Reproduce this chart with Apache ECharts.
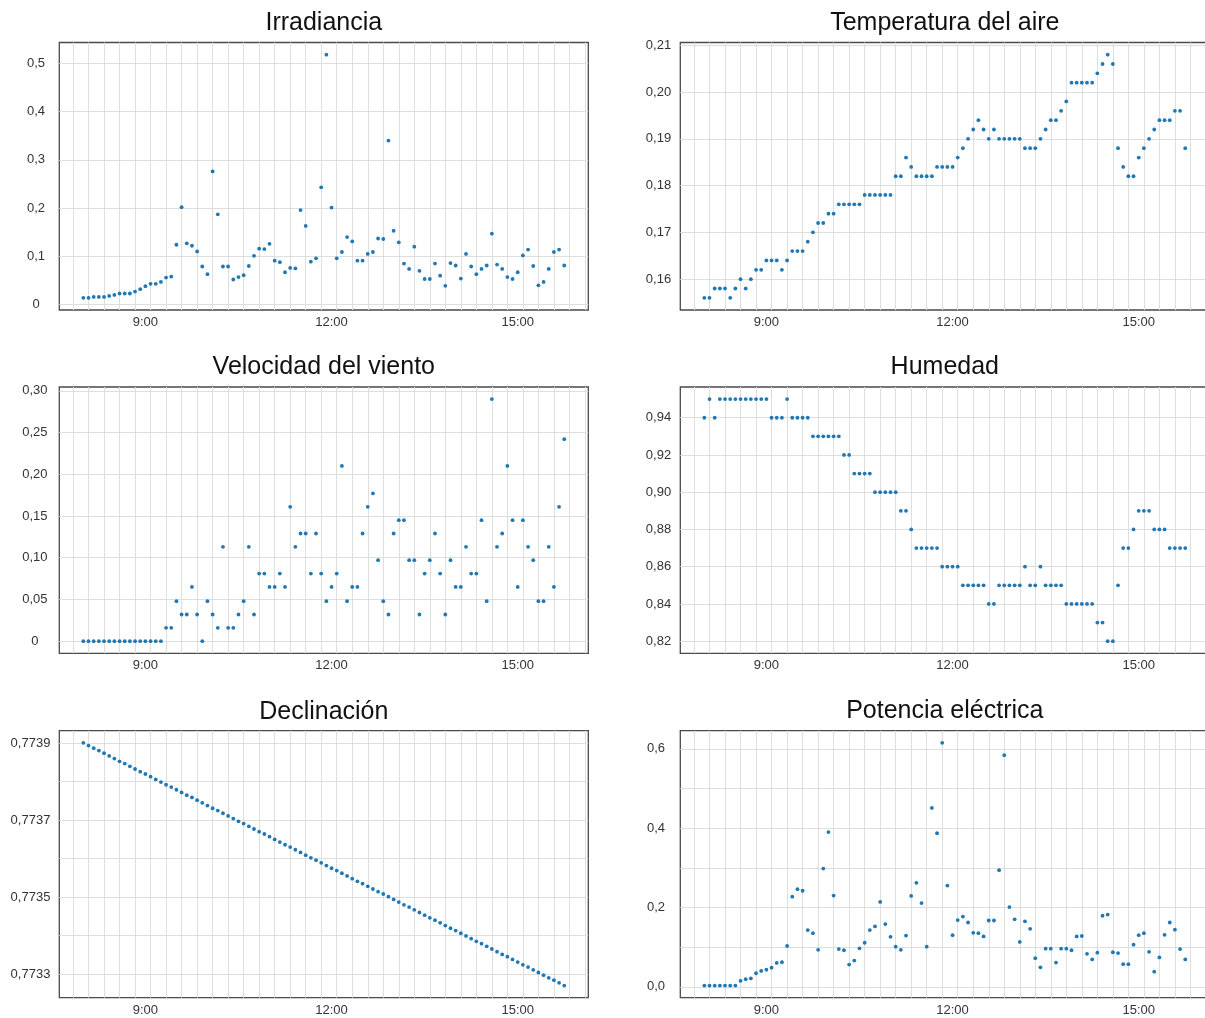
<!DOCTYPE html>
<html>
<head>
<meta charset="utf-8">
<script src="https://cdn.jsdelivr.net/npm/echarts@6/dist/echarts.min.js"></script>
<style>
html,body{margin:0;padding:0;background:#ffffff;}
#chart{width:1205px;height:1018px;}
</style>
</head>
<body>
<div id="chart"></div>
<script>
// ---- data ----
const times = [
  "8:00","8:05","8:10","8:15","8:20","8:25","8:30","8:35","8:40","8:45","8:50","8:55",
  "9:00","9:05","9:10","9:15","9:20","9:25","9:30","9:35","9:40","9:45","9:50","9:55",
  "10:00","10:05","10:10","10:15","10:20","10:25","10:30","10:35","10:40","10:45","10:50","10:55",
  "11:00","11:05","11:10","11:15","11:20","11:25","11:30","11:35","11:40","11:45","11:50","11:55",
  "12:00","12:05","12:10","12:15","12:20","12:25","12:30","12:35","12:40","12:45","12:50","12:55",
  "13:00","13:05","13:10","13:15","13:20","13:25","13:30","13:35","13:40","13:45","13:50","13:55",
  "14:00","14:05","14:10","14:15","14:20","14:25","14:30","14:35","14:40","14:45","14:50","14:55",
  "15:00","15:05","15:10","15:15","15:20","15:25","15:30","15:35","15:40","15:45"
];

const irradiancia = [
  0.014,0.014,0.016,0.016,0.016,0.018,0.020,0.023,0.023,0.023,
  0.027,0.032,0.038,0.043,0.043,0.047,0.056,0.058,0.124,0.202,
  0.127,0.122,0.110,0.079,0.063,0.276,0.187,0.079,0.079,0.052,
  0.057,0.061,0.080,0.101,0.116,0.115,0.126,0.091,0.088,0.067,
  0.076,0.075,0.196,0.163,0.089,0.096,0.243,0.518,0.201,0.096,
  0.109,0.140,0.131,0.091,0.091,0.105,0.109,0.137,0.136,0.340,
  0.153,0.129,0.085,0.074,0.120,0.070,0.053,0.053,0.085,0.060,
  0.039,0.086,0.081,0.054,0.105,0.079,0.063,0.074,0.081,0.147,
  0.083,0.074,0.057,0.053,0.067,0.102,0.114,0.080,0.040,0.047,
  0.074,0.109,0.114,0.081
];

const temperatura = [
  0.156,0.156,0.158,0.158,0.158,0.156,0.158,0.160,0.158,0.160,
  0.162,0.162,0.164,0.164,0.164,0.162,0.164,0.166,0.166,0.166,
  0.168,0.170,0.172,0.172,0.174,0.174,0.176,0.176,0.176,0.176,
  0.176,0.178,0.178,0.178,0.178,0.178,0.178,0.182,0.182,0.186,
  0.184,0.182,0.182,0.182,0.182,0.184,0.184,0.184,0.184,0.186,
  0.188,0.190,0.192,0.194,0.192,0.190,0.192,0.190,0.190,0.190,
  0.190,0.190,0.188,0.188,0.188,0.190,0.192,0.194,0.194,0.196,
  0.198,0.202,0.202,0.202,0.202,0.202,0.204,0.206,0.208,0.206,
  0.188,0.184,0.182,0.182,0.186,0.188,0.190,0.192,0.194,0.194,
  0.194,0.196,0.196,0.188
];

const viento = [
  0,0,0,0,0,0,0,0,0,0,0,0,0,0,0,0,
  0.016,0.016,0.048,0.032,0.032,0.065,0.032,0,0.048,0.032,
  0.016,0.113,0.016,0.016,0.032,0.048,0.113,0.032,0.081,0.081,
  0.065,0.065,0.081,0.065,0.161,0.113,0.129,0.129,0.081,0.129,
  0.081,0.048,0.065,0.081,0.210,0.048,0.065,0.065,0.129,0.161,
  0.177,0.097,0.048,0.032,0.129,0.145,0.145,0.097,0.097,0.032,
  0.081,0.097,0.129,0.081,0.032,0.097,0.065,0.065,0.113,0.081,
  0.081,0.145,0.048,0.290,0.113,0.129,0.210,0.145,0.065,0.145,
  0.113,0.097,0.048,0.048,0.113,0.065,0.161,0.242
];

const humedad = [
  0.94,0.95,0.94,0.95,0.95,0.95,0.95,0.95,0.95,0.95,
  0.95,0.95,0.95,0.94,0.94,0.94,0.95,0.94,0.94,0.94,
  0.94,0.93,0.93,0.93,0.93,0.93,0.93,0.92,0.92,0.91,
  0.91,0.91,0.91,0.90,0.90,0.90,0.90,0.90,0.89,0.89,
  0.88,0.87,0.87,0.87,0.87,0.87,0.86,0.86,0.86,0.86,
  0.85,0.85,0.85,0.85,0.85,0.84,0.84,0.85,0.85,0.85,
  0.85,0.85,0.86,0.85,0.85,0.86,0.85,0.85,0.85,0.85,
  0.84,0.84,0.84,0.84,0.84,0.84,0.83,0.83,0.82,0.82,
  0.85,0.87,0.87,0.88,0.89,0.89,0.89,0.88,0.88,0.88,
  0.87,0.87,0.87,0.87
];

const declinacion = [
  0.773901,0.773894,0.773887,0.773881,0.773874,0.773867,0.773860,0.773853,0.773847,0.773840,
  0.773833,0.773826,0.773820,0.773813,0.773806,0.773799,0.773792,0.773786,0.773779,0.773772,
  0.773765,0.773759,0.773752,0.773745,0.773738,0.773731,0.773725,0.773718,0.773711,0.773704,
  0.773697,0.773691,0.773684,0.773677,0.773670,0.773664,0.773657,0.773650,0.773643,0.773636,
  0.773630,0.773623,0.773616,0.773609,0.773602,0.773596,0.773589,0.773582,0.773575,0.773569,
  0.773562,0.773555,0.773548,0.773541,0.773535,0.773528,0.773521,0.773514,0.773508,0.773501,
  0.773494,0.773487,0.773480,0.773474,0.773467,0.773460,0.773453,0.773446,0.773440,0.773433,
  0.773426,0.773419,0.773413,0.773406,0.773399,0.773392,0.773385,0.773379,0.773372,0.773365,
  0.773358,0.773351,0.773345,0.773338,0.773331,0.773324,0.773318,0.773311,0.773304,0.773297,
  0.773290,0.773284,0.773277,0.773270
];

const potencia = [
  0.003,0.003,0.003,0.003,0.003,0.003,0.003,0.015,0.019,0.021,
  0.034,0.040,0.043,0.048,0.060,0.062,0.103,0.227,0.246,0.242,
  0.143,0.135,0.093,0.298,0.390,0.230,0.095,0.092,0.056,0.066,
  0.097,0.111,0.143,0.152,0.214,0.158,0.126,0.101,0.093,0.129,
  0.229,0.262,0.211,0.101,0.451,0.387,0.615,0.255,0.130,0.168,
  0.177,0.162,0.136,0.135,0.127,0.167,0.167,0.294,0.584,0.201,
  0.170,0.113,0.165,0.146,0.072,0.049,0.096,0.096,0.061,0.096,
  0.096,0.092,0.127,0.128,0.083,0.069,0.086,0.179,0.182,0.087,
  0.085,0.057,0.057,0.106,0.130,0.135,0.088,0.038,0.074,0.131,
  0.162,0.144,0.095,0.069
];

// tick labels
const xTickLabels = ["9:00","12:00","15:00"];
const irrTickValues = [0,0.1,0.2,0.3,0.4,0.5];
const irrTickLabels = ["0","0,1","0,2","0,3","0,4","0,5"];
const tempTickValues = [0.16,0.17,0.18,0.19,0.20,0.21];
const tempTickLabels = ["0,16","0,17","0,18","0,19","0,20","0,21"];
const vientoTickValues = [0,0.05,0.10,0.15,0.20,0.25,0.30];
const vientoTickLabels = ["0","0,05","0,10","0,15","0,20","0,25","0,30"];
const humTickValues = [0.82,0.84,0.86,0.88,0.90,0.92,0.94];
const humTickLabels = ["0,82","0,84","0,86","0,88","0,90","0,92","0,94"];
const declGridValues = [0.7733,0.7734,0.7735,0.7736,0.7737,0.7738,0.7739];
const declTickValues = [0.7733,0.7735,0.7737,0.7739];
const declTickLabels = ["0,7733","0,7735","0,7737","0,7739"];
const potGridValues = [0,0.1,0.2,0.3,0.4,0.5,0.6];
const potTickValues = [0,0.2,0.4,0.6];
const potTickLabels = ["0,0","0,2","0,4","0,6"];

// ---- build chart ----
function toMin(s){ const p = s.split(":"); return (+p[0])*60 + (+p[1]); }
const xs = times.map(toMin);
const xMinD = Math.min(...xs), xMaxD = Math.max(...xs);
const xPad = (xMaxD - xMinD) * 0.05;
const xMin = xMinD - xPad, xMax = xMaxD + xPad;
const xLabelValues = xTickLabels.map(toMin);
// vertical minor grid every 15 min
const xGridValues = [];
for (let v = xMinD + 5; v <= xMax; v += 15) xGridValues.push(v);
for (let v = xMinD + 5 - 15; v >= xMin; v -= 15) xGridValues.unshift(v);

const FONT = '"Liberation Sans", Arial, sans-serif';
const LEFTX = 59.3, RIGHTX = 680.3, W = 529;
const panels = [
  {title:"Irradiancia", d:irradiancia, gl:irrTickValues, tv:irrTickValues, tl:irrTickLabels, left:LEFTX, top:42.5, h:267.5, lm:23.3, ty:23.5},
  {title:"Temperatura del aire", d:temperatura, gl:tempTickValues, tv:tempTickValues, tl:tempTickLabels, left:RIGHTX, top:42.5, h:267.5, lm:21.8, ty:23.5},
  {title:"Velocidad del viento", d:viento, gl:vientoTickValues, tv:vientoTickValues, tl:vientoTickLabels, left:LEFTX, top:387, h:266.3, lm:24.5, ty:367.5},
  {title:"Humedad", d:humedad, gl:humTickValues, tv:humTickValues, tl:humTickLabels, left:RIGHTX, top:387, h:266.3, lm:21.8, ty:367.5},
  {title:"Declinación", d:declinacion, gl:declGridValues, tv:declTickValues, tl:declTickLabels, left:LEFTX, top:730.7, h:267, lm:28.8, ty:712},
  {title:"Potencia eléctrica", d:potencia, gl:potGridValues, tv:potTickValues, tl:potTickLabels, left:RIGHTX, top:730.7, h:267, lm:24.3, ty:711.5}
];

function lookup(values, labels, v){
  for (let i = 0; i < values.length; i++) if (Math.abs(values[i] - v) < 1e-7) return labels[i];
  return "";
}

const option = {
  animation:false,
  backgroundColor:"#ffffff",
  title:[], grid:[], xAxis:[], yAxis:[], series:[]
};

panels.forEach((p, i) => {
  const lo = Math.min(...p.d), hi = Math.max(...p.d);
  const pad = (hi - lo) * 0.05;
  option.title.push({
    text:p.title, left:p.left + W/2, top:p.ty, textAlign:"center", textVerticalAlign:"middle", padding:0,
    textStyle:{fontFamily:FONT, fontSize:25, fontWeight:"normal", color:"#111111"}
  });
  option.grid.push({
    left:p.left, top:p.top, width:W, height:p.h, show:true,
    borderColor:"#4a4a4a", borderWidth:1.3, backgroundColor:"#ffffff",
    containLabel:false, outerBoundsMode:"none"
  });
  option.xAxis.push({
    type:"value", gridIndex:i, min:xMin, max:xMax,
    axisLine:{show:false}, axisTick:{show:false, customValues:xGridValues},
    splitLine:{show:true, lineStyle:{color:"#dedede", width:1}},
    axisLabel:{show:true, customValues:xLabelValues, margin:6,
      fontFamily:FONT, fontSize:13, color:"#333333",
      formatter:(v) => lookup(xLabelValues, xTickLabels, v)}
  });
  option.yAxis.push({
    type:"value", gridIndex:i, min:lo - pad, max:hi + pad,
    axisLine:{show:false}, axisTick:{show:false, customValues:p.gl},
    splitLine:{show:true, lineStyle:{color:"#dedede", width:1}},
    axisLabel:{show:true, customValues:p.tv, margin:p.lm, align:"center",
      fontFamily:FONT, fontSize:13, color:"#333333",
      formatter:(v) => lookup(p.tv, p.tl, v)}
  });
  option.series.push({
    type:"scatter", xAxisIndex:i, yAxisIndex:i, symbol:"circle", symbolSize:3.8,
    itemStyle:{color:"#1f77b4", opacity:1},
    data:xs.map((x, k) => [x, p.d[k]])
  });
});

const chart = echarts.init(document.getElementById("chart"), null, {renderer:"canvas"});
chart.setOption(option);
</script>
</body>
</html>
